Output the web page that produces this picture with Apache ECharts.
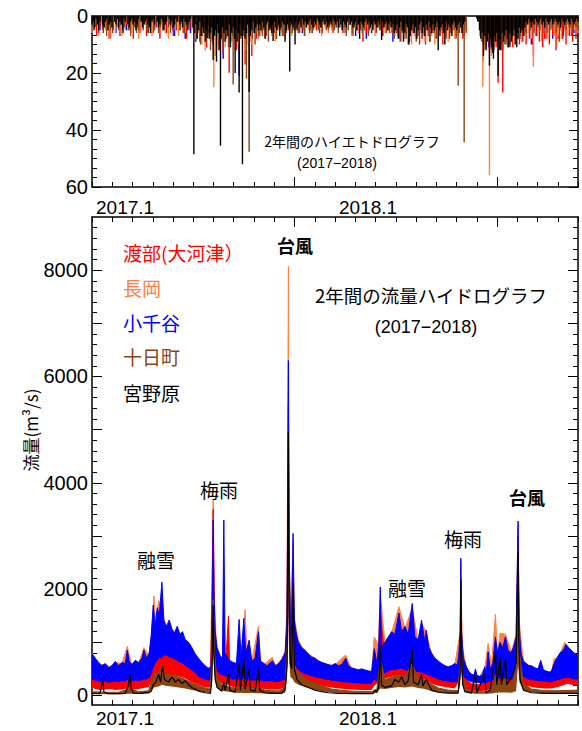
<!DOCTYPE html>
<html>
<head>
<meta charset="utf-8">
<script src="https://cdn.jsdelivr.net/npm/echarts@6/dist/echarts.min.js"></script>
<style>
  html, body { margin: 0; padding: 0; background: #fff; }
  #chart { width: 582px; height: 731px; }
</style>
</head>
<body>
<div id="chart"></div>
<script>
// x = days since 2017-01-01 (two years)
const DAYS = 730
const yearLabels = ['2017.1', '2018.1']
const yearStarts = [0, 365]
const flowLabels = [0, 2000, 4000, 6000, 8000]
const flowLongTicks = [0, 1000, 2000, 3000, 4000, 5000, 6000, 7000, 8000]

const stations = ['渡部(大河津）', '長岡', '小千谷', '十日町', '宮野原']
const colors = ['#ff0000', '#ff8040', '#0000ff', '#8b4513', '#000000']

// ---- hyetograph (mm): background values every n days + single peaks [day, mm]
const rainBlack = [
  3,2,4,1,3,5,2,0,3,4, 2,1,5,3,2,4,0,2,3,1, 4,2,3,5,1,2,0,3,4,2, 1,3,2,5,3,1,0,2,4,3,
  2,1,3,4,6,2,1,3,0,2, 4,3,1,2,5,3,2,0,1,3, 2,4,3,1,2,0,3,2,4,1, 2,3,5,2,1,0,
  4,6,3,8,5,2,7,4,6,9, 5,3,8,6,4,10,7,5,3,6, 12,8,4,6,9,5,7,3,11,6, 4,8,5,9,6,3,7,4,5,8,
  6,3,4,7,5,2,6,4,3,5,
  3,5,2,4,8,3,2,5,4,6, 3,2,4,5,3,7,4,2,3,9, 5,3,4,2,3,
  4,3,2,5,3,2,4,1,3,2, 4,3,2,1,3,4,2,3,1,2, 3,4,2,1,3,2,4,3,2,3, 1,2,
  3,2,4,1,3,5,2,3,4,2, 1,3,2,4,3,2,5,3,8,2, 3,4,2,1,3,2,4,3,5,2, 3,4,2,3,1,2,4,3,2,5, 3,2,
  4,3,6,5,3,8,4,2,5,9, 6,3,4,10,7,5,3,6,4,8, 5,3,2,6,4,7,3,5,2,4, 6,3,5,4,2,3,5,4,3,6,
  4,2,5,3,4,6,3,2,4,5, 3,2,4,6,3,2,
  0,0,0,0,0,0,0,0,1,2,
  5,8,6,10,7,12,9,6,8,11, 13,7,9,6,10,8,12,6,9,7, 5,8,11,6,9,7,5,10,6,8, 4,6,5,7,4,
  2,3,1,2,4,2,3,1,2,3, 2,1,3,2,4,1,2,3,2,1, 3,2,1,2,3,2,4,1,2,3, 2,1,2,3,1,2,3,2,1,2
]
const rainBrown = [
  4,5,3,6,2,5,4,7,3,5, 6,2,4,5,3,6,4,2,5,7, 3,4,6,5,2,4,3,5,6,4, 2,5,3,6,4,5,3,2,4,6, 5,3,4,2,5,3,6,4,3,2, 4,
  6,8,5,10,7,4,9,6,12,8, 5,7,10,6,9,5,8,11,6,7, 4,9,6,8,5,7,10,6,5,8, 4,6,7,
  5,7,4,6,9,5,3,6,8,4, 5,7,3,6,5,4, 6,
  5,4,6,3,5,7,4,3,5,6, 4,3,5,4,6,3,4,5,3,4, 5,
  4,6,3,5,4,7,5,3,6,4, 5,3,4,6,5,3,7,4,5,3, 6,4,5,3,4,6,5,4,
  6,8,5,7,9,6,4,8,10,7, 5,6,9,7,5,8,6,4,7,9, 5,6,8,4,7,5,6,8,4,6, 7,5,8,6,4,5,7,5,
  0,0,0,0,0,1,
  7,9,6,11,8,10,7,12,9,6, 8,10,7,9,6,11,8,7,9,6, 8,5,7,6,
  3,5,4,6,3,4,5,3,6,4, 3,5,4,3,6,4,5,3,4,5, 3,4,6,3,4,5
]
const rainOrange = [
  6,3,7,4,5,8,3,6,4,7, 5,2,6,4,8,5,3,6,7,4, 5,3,6,8,4,5,7,3,6,4, 5,
  8,6,10,12,7,9,14,6,8,11, 7,9,6,10,8,12,7,9,6,8,
  6,8,5,7,9,5,6,8,5,7,
  5,6,4,7,5,6,4,5,7,4, 6,5,4,
  5,4,6,5,7,4,6,5,4,6, 5,7,4,5,6,5,6,
  7,6,9,8,6,10,7,5,8,9, 6,7,10,8,6,7,9,6,8,7, 6,5,
  0,0,0,0,
  9,12,8,14,10,9,12,8,11,9, 10,8,9,7,
  6,8,5,7,9,6,8,5,7,6, 8,5,7,6,5,6
]
const rainRed = [
  5,7,4,6,3,8,5,4,7,6, 3,5,8,4,6,5,7,3,6,4, 8,5,6,3,7,5,4,6,8,5, 4,
  7,9,6,11,8,6,10,8,13,7, 9,6,12,8,7,10,9,6,8,7,
  5,7,4,6,8,5,7,4,6,5,
  4,6,5,3,6,4,5,6,3,5, 4,6,4,
  4,6,5,3,7,5,4,9,6,5, 4,6,5,7,4,6,5,
  6,8,5,7,9,6,8,10,7,5, 9,6,8,7,10,6,8,5,7,6, 8,6,
  0,0,0,1,
  10,8,13,9,11,8,12,10,9,11, 8,10,9,10,
  8,10,7,9,11,8,10,7,12,9, 8,10,7,9,8,9
]
const rainBlue = [
  3,5,2,4,6,3,5,2,4,3, 6,2,5,4,3,7,5,8,6,9, 7,5,8,6,4,5,3,6,4,5,
  3,4,5,3,4,2,5,3,4,6, 3,5,4,2,3,5,4,6,3,7, 5,8,6,4,7,5,9,6,8,5,
  4,6,3,5,4,6,5,7,4,6, 0,0,0,
  8,11,9,12,8,10,9,7,6,5, 7,4,6,8,5,7,4,6,5
]
const peaksBlack = [[153,48.5],[173,7.8],[182,15.4],[187,16],[193,45.5],[215,20],[221,26.8],[226,52],
  [236,26.7],[272,8.8],[297,19.5],[305,10],[435,8.4],[520,12],[530,10],[588,14],[597,17.4],
  [603,15],[610,21],[625,11],[638,11]]
const peaksBrown = [[190,12],[212,24],[232,22],[236,47.6],[245,10],[550,24.5],[559,44.4],[600,12],[620,10]]
const peaksOrange = [[183,25],[215,12],[240,10],[587,24.8],[597,55.8],[663,17.8],[700,7]]
const peaksRed = [[206,19.9],[230,17],[240,14],[501,10],[610,23.4],[617,26.8],[663,14],[680,8],[700,8],[720,7]]
const peaksBlue = [[197,15],[221,21],[587,16],[660,10]]

// ---- discharge (m3/s): [day, low, high] envelope of the hourly trace
const flowOrange = [[0,320,800],[10,300,580],[20,300,580],[27,300,540],[35,300,620],[45,300,600],[53,320,920],
  [60,300,560],[70,300,600],[78,320,900],[85,350,760],[90,500,1100],[93,550,1870],[96,560,1300],[100,600,1790],
  [105,620,1600],[110,620,1350],[120,600,1200],[130,560,1150],[140,500,1020],[150,450,880],[160,380,680],
  [170,320,540],[178,320,520],[180,600,2000],[182,1600,3690],[184,900,1800],[187,500,900],[195,420,700],
  [205,360,640],[215,330,600],[224,330,720],[230,330,1616],[233,320,720],[240,300,650],[250,320,1300],
  [253,300,640],[260,290,600],[271,290,720],[275,280,560],[285,300,680],[291,350,850],[293,600,2000],
  [295,2200,8070],[296,1300,3000],[298,800,1450],[302,750,2900],[304,650,1450],[310,530,1040],[318,450,840],
  [325,420,780],[335,380,700],[345,350,620],[355,320,570],[365,300,580],[381,280,760],[390,270,500],
  [405,260,480],[420,250,450],[424,330,1100],[430,400,950],[433,480,1900],[440,450,1000],[450,500,1180],
  [461,520,1670],[470,500,1250],[481,500,1650],[490,460,1020],[495,450,1350],[502,420,1200],[510,380,780],
  [520,330,620],[535,290,520],[545,280,580],[553,400,1200],[554,800,2500],[556,450,950],[562,320,520],
  [570,280,400],[582,260,350],[590,260,520],[595,280,980],[600,290,580],[606,320,1530],[609,320,780],
  [613,340,1170],[621,330,1150],[630,320,820],[637,370,1150],[640,800,3200],[642,500,1350],[648,380,640],
  [660,320,540],[670,300,480],[680,290,450],[690,280,430],[694,290,690],[700,300,700],[710,340,1000],
  [716,350,880],[724,330,800],[730,320,740]]
const flowRed = [[0,150,380],[5,120,330],[12,100,300],[20,110,300],[27,120,340],[35,100,280],[45,110,300],
  [53,130,320],[60,110,290],[70,120,300],[78,140,340],[85,160,380],[89,250,600],[93,350,900],[98,380,850],
  [105,420,900],[110,400,820],[120,380,800],[130,360,760],[140,320,680],[150,250,560],[160,200,450],
  [170,150,380],[178,150,360],[180,400,1500],[182,1200,3500],[184,600,1400],[187,300,700],[195,220,500],
  [200,200,450],[205,200,1490],[207,180,420],[215,150,380],[225,150,420],[232,150,500],[240,140,450],
  [250,130,480],[260,120,350],[270,110,320],[280,110,300],[290,150,450],[293,400,1500],[295,1800,5500],
  [296,900,2500],[298,500,1200],[302,500,2200],[304,400,1000],[310,320,800],[320,280,650],[330,230,520],
  [340,200,450],[350,170,400],[360,150,360],[370,130,340],[381,120,330],[390,110,300],[405,100,280],
  [420,100,260],[424,180,600],[430,250,700],[433,350,1500],[440,320,750],[450,350,820],[461,380,900],
  [470,360,850],[481,380,950],[490,330,780],[500,300,700],[510,220,560],[520,180,450],[535,150,380],
  [545,130,350],[553,300,900],[554,700,2200],[556,300,700],[562,120,300],[570,90,220],[582,80,200],
  [590,90,250],[600,120,350],[606,150,600],[613,170,500],[621,170,550],[630,150,480],[637,200,600],
  [640,700,3000],[642,400,1100],[648,200,450],[660,160,380],[670,140,330],[680,130,320],[690,130,320],
  [700,160,420],[710,200,480],[715,220,600],[720,200,460],[730,180,420]]
const flowBlue = [[0,300,780],[5,280,700],[10,260,620],[15,250,560],[20,260,600],[25,240,520],[30,250,560],
  [35,260,640],[40,250,560],[45,270,620],[50,260,600],[53,300,850],[56,270,640],[60,260,580],[65,280,660],
  [70,270,620],[75,280,700],[78,300,850],[82,300,700],[86,330,800],[89,400,1150],[92,500,1700],[95,600,1300],
  [98,650,1650],[101,700,1500],[105,700,2130],[108,750,1400],[112,750,1300],[116,720,1420],[120,700,1250],
  [124,680,1180],[128,650,1300],[132,620,1150],[136,600,1200],[140,560,1050],[145,520,1000],[150,470,900],
  [155,420,780],[160,350,700],[165,320,620],[170,300,560],[175,280,500],[179,300,560],[181,800,2100],
  [182,1500,3300],[183,900,2000],[185,600,1200],[188,450,900],[192,400,750],[196,380,700],[198,380,3300],
  [200,360,800],[204,330,700],[208,320,650],[212,300,620],[217,300,600],[221,320,1430],[224,300,700],
  [228,320,1450],[231,300,800],[236,300,1040],[240,280,650],[245,280,700],[250,300,1200],[253,280,650],
  [258,270,600],[263,260,560],[268,270,620],[271,260,650],[276,250,560],[281,260,600],[286,280,700],
  [290,300,800],[293,500,1500],[295,2000,6300],[296,1200,2800],[298,700,1400],[300,600,1300],[302,700,3050],
  [304,600,1400],[307,520,1150],[310,480,1000],[315,430,900],[320,400,850],[325,380,780],[330,360,720],
  [335,340,700],[340,330,650],[345,320,620],[350,300,600],[355,290,580],[360,280,560],[365,270,600],
  [370,260,560],[375,250,580],[381,250,700],[385,240,560],[390,240,520],[395,230,500],[400,230,480],
  [405,220,500],[410,220,480],[415,210,460],[420,220,450],[424,300,880],[428,260,600],[431,400,1000],
  [433,450,2040],[435,400,900],[440,420,1000],[445,450,1100],[450,480,1200],[455,480,1150],[461,500,1550],
  [465,500,1200],[470,480,1300],[475,450,1150],[481,480,1730],[485,450,1100],[490,440,1050],[495,430,1415],
  [500,400,1000],[502,400,1226],[506,380,900],[510,350,800],[515,330,700],[520,300,650],[525,280,600],
  [530,270,560],[535,260,540],[540,250,560],[545,250,600],[550,260,560],[553,400,1200],[554,800,2580],
  [555,500,1200],[558,350,700],[562,300,550],[566,270,450],[570,250,400],[574,240,380],[576,240,500],
  [578,240,380],[582,230,360],[586,230,380],[590,240,540],[592,230,400],[595,260,820],[598,260,500],
  [602,270,600],[606,300,1100],[609,300,800],[613,320,1000],[617,320,900],[621,300,1100],[625,300,850],
  [629,290,800],[633,300,900],[637,350,1100],[640,800,3280],[641,500,1500],[644,400,800],[648,350,650],
  [652,320,600],[656,300,560],[660,290,560],[665,280,520],[670,270,500],[674,270,660],[678,260,480],
  [682,260,460],[686,250,440],[690,250,450],[694,260,600],[698,280,700],[703,300,800],[708,320,850],
  [712,330,960],[716,330,900],[720,320,850],[724,300,800],[730,300,750]]
const flowBrown = [[0,25,70],[20,20,60],[40,20,60],[57,30,130],[70,25,70],[85,30,90],[89,80,250],
  [93,150,420],[100,170,400],[105,200,550],[110,180,400],[120,170,380],[130,150,350],[140,130,300],
  [150,100,240],[160,80,190],[170,60,140],[178,50,120],[180,300,900],[182,800,1800],[184,400,800],
  [187,150,330],[195,90,200],[205,70,170],[215,50,140],[230,45,160],[240,45,130],[250,40,150],[260,35,100],
  [270,30,90],[280,30,85],[290,50,150],[293,300,1000],[295,1500,4500],[296,700,1800],[298,350,700],
  [302,300,1300],[304,250,520],[310,200,420],[320,160,320],[330,120,250],[345,80,180],[360,55,120],
  [380,40,90],[400,30,75],[420,30,70],[428,50,120],[433,130,700],[440,120,300],[450,140,340],[461,160,380],
  [470,150,360],[481,170,600],[490,140,320],[500,120,290],[510,80,210],[520,55,140],[535,40,100],
  [550,40,90],[553,200,700],[554,600,1900],[556,200,420],[562,55,120],[575,30,70],[590,30,70],[600,35,100],
  [606,50,400],[613,55,260],[621,55,320],[630,50,200],[637,80,500],[640,600,2500],[642,250,800],
  [648,100,230],[660,55,120],[680,40,90],[700,40,90],[730,40,100]]
const flowBlack = [[0,40],[12,35],[16,280],[18,60],[25,35],[40,35],[50,40],[55,200],[57,400],[59,120],[62,45],
  [75,40],[80,60],[85,50],[89,80],[92,200],[96,250],[100,400],[103,250],[106,550],[109,300],[115,250],
  [120,350],[125,250],[130,300],[135,220],[140,280],[145,200],[150,150],[155,120],[160,80],[170,50],[178,40],
  [180,300],[182,1700],[183,800],[185,300],[188,150],[195,80],[198,250],[200,90],[205,400],[207,100],
  [215,60],[221,600],[223,100],[228,700],[230,120],[236,500],[238,100],[245,80],[250,500],[252,90],[260,50],
  [270,40],[285,40],[290,100],[293,600],[295,4950],[296,1800],[298,600],[300,500],[302,2100],[304,500],
  [308,300],[315,200],[325,150],[335,100],[345,70],[355,50],[370,40],[400,35],[422,35],[425,100],[428,60],
  [431,200],[433,950],[435,200],[440,150],[450,180],[455,300],[461,250],[465,350],[470,200],[475,280],
  [481,850],[483,250],[490,200],[495,400],[497,180],[502,300],[510,100],[520,60],[535,45],[550,45],[553,400],
  [554,2170],[555,800],[557,200],[560,70],[570,45],[576,440],[578,50],[590,410],[592,50],[598,100],[606,820],
  [608,200],[613,720],[615,200],[621,700],[623,200],[630,350],[637,600],[640,2700],[641,1000],[643,300],
  [648,100],[660,50],[680,40],[700,40],[730,40]]

const FONT = "'Liberation Sans', 'Noto Sans CJK JP', sans-serif"
const JP = "'Noto Sans CJK JP', 'Liberation Sans', sans-serif"

// tick positions (layout only)
const monthTicks = Array.from({ length: 25 }, (_, k) => (k * DAYS) / 24)
const longTicks = [(10 * DAYS) / 24, (20 * DAYS) / 24]
const flowMinor = []
for (let v = 200; v < 9000; v += 200) if (v % 1000 !== 0) flowMinor.push(v)

const chart = echarts.init(document.getElementById('chart'), null, { renderer: 'svg' })

const blackLine = { show: true, onZero: false, lineStyle: { color: '#000', width: 1.5 } }
const noLine = { show: false, onZero: false }
const tick = (length, values) => ({ show: true, inside: true, length, customValues: values, lineStyle: { color: '#000', width: 1 } })

const xAxesFor = (gi, margin) => {
  const base = { gridIndex: gi, type: 'value', min: 0, max: DAYS, splitLine: { show: false } }
  return [
    {
      ...base, position: 'bottom', axisLine: blackLine, axisTick: tick(5, monthTicks),
      axisLabel: {
        show: true, customValues: yearStarts,
        formatter: (v) => yearLabels[yearStarts.indexOf(v)] || '',
        align: 'left', padding: [0, 0, 0, 4], margin, fontSize: 19, color: '#000', fontFamily: FONT,
      },
    },
    { ...base, position: 'bottom', axisLine: noLine, axisTick: tick(10, longTicks), axisLabel: { show: false } },
    { ...base, position: 'top', axisLine: blackLine, axisTick: tick(5, monthTicks), axisLabel: { show: false } },
    { ...base, position: 'top', axisLine: noLine, axisTick: tick(10, longTicks), axisLabel: { show: false } },
  ]
}

const rainY = (position, showLabel) => ({
  gridIndex: 0, type: 'value', inverse: true, min: 0, max: 60, interval: 20, position,
  axisLine: blackLine,
  axisTick: { show: true, inside: true, length: 9, lineStyle: { color: '#000' } },
  minorTick: { show: true, splitNumber: 6, length: 5, lineStyle: { color: '#000' } },
  axisLabel: { show: showLabel, fontSize: 20, margin: 4, color: '#000', fontFamily: FONT },
  splitLine: { show: false },
})

const flowY = (position, showLabel, length, values, withLine) => ({
  gridIndex: 1, type: 'value', min: -180, max: 9000, position,
  axisLine: withLine ? blackLine : noLine,
  axisTick: tick(length, values),
  axisLabel: {
    show: showLabel, customValues: flowLabels, formatter: (v) => String(v),
    fontSize: 20, margin: 4, color: '#000', fontFamily: FONT,
  },
  splitLine: { show: false },
})

const rainBars = (name, color, bg, start, step, peaks) => ({
  name, type: 'bar', xAxisIndex: 0, yAxisIndex: 0, barWidth: 1.4, barGap: '-100%',
  itemStyle: { color }, silent: true,
  data: bg.map((v, i) => [start + i * step, v]).concat(peaks),
})

// value first in each item so the stack runs on the value dimension, not on the day
const band = (name, color, rows, z) => [
  {
    name: name + '-low', type: 'line', xAxisIndex: 4, yAxisIndex: 2, stack: name, z,
    dimensions: ['v', 'day'], encode: { x: 'day', y: 'v' },
    symbol: 'none', silent: true, lineStyle: { opacity: 0 },
    data: rows.map((r) => [r[1], r[0]]),
  },
  {
    name, type: 'line', xAxisIndex: 4, yAxisIndex: 2, stack: name, z,
    dimensions: ['v', 'day'], encode: { x: 'day', y: 'v' },
    symbol: 'none', silent: true, lineStyle: { color, width: 1 }, areaStyle: { color, opacity: 1 },
    data: rows.map((r) => [r[2] - r[1], r[0]]),
  },
]

const label = (text, x, y, size, opts = {}) => ({
  type: 'text', x, y, rotation: opts.rotation || 0, silent: true, z: 50,
  style: {
    text, fill: opts.color || '#000',
    font: `${opts.bold ? 'bold ' : ''}${size}px ${opts.font || JP}`,
    textAlign: opts.align || 'center', textVerticalAlign: 'middle',
  },
})

const option = {
  animation: false,
  backgroundColor: '#fff',
  grid: [
    { left: 92, top: 16, width: 486, height: 171 },
    { left: 92, top: 217, width: 486, height: 488 },
  ],
  xAxis: [...xAxesFor(0, 11), ...xAxesFor(1, 4)],
  yAxis: [
    rainY('left', true),
    rainY('right', false),
    flowY('left', true, 10, flowLongTicks, true),
    flowY('left', false, 5, flowMinor, false),
    flowY('right', false, 10, flowLongTicks, true),
    flowY('right', false, 5, flowMinor, false),
  ],
  series: [
    rainBars(stations[2], colors[2], rainBlue, 4, 8, peaksBlue),
    rainBars(stations[0], colors[0], rainRed, 2, 5, peaksRed),
    rainBars(stations[1], colors[1], rainOrange, 0, 5, peaksOrange),
    rainBars(stations[3], colors[3], rainBrown, 1, 3, peaksBrown),
    rainBars(stations[4], colors[4], rainBlack, 0, 2, peaksBlack),
    ...band(stations[1], colors[1], flowOrange, 2),
    ...band(stations[0], colors[0], flowRed, 3),
    ...band(stations[2], colors[2], flowBlue, 4),
    ...band(stations[3], colors[3], flowBrown, 5),
    {
      name: stations[4], type: 'line', xAxisIndex: 4, yAxisIndex: 2, z: 6, symbol: 'none', silent: true,
      lineStyle: { color: colors[4], width: 1.2 }, data: flowBlack,
    },
  ],
  graphic: [
    label('2年間のハイエトドログラフ', 352, 141, 14),
    label('(2017−2018)', 337, 163, 14, { font: FONT }),
    ...stations.map((s, i) => label(s, 123, [252, 287, 322, 356, 392][i], 19, { color: colors[i], align: 'left' })),
    label('台風', 295, 245, 18, { bold: true }),
    label('2年間の流量ハイドログラフ', 431, 295, 18.5),
    label('(2017−2018)', 426, 327, 18, { font: FONT }),
    label('梅雨', 219, 489, 19),
    label('融雪', 156, 559, 19),
    label('融雪', 407, 587, 19),
    label('梅雨', 463, 538, 19),
    label('台風', 527, 497, 18, { bold: true }),
    label('流量(m³/s)', 30, 430, 17, { rotation: Math.PI / 2 }),
  ],
}

chart.setOption(option)
</script>
</body>
</html>
